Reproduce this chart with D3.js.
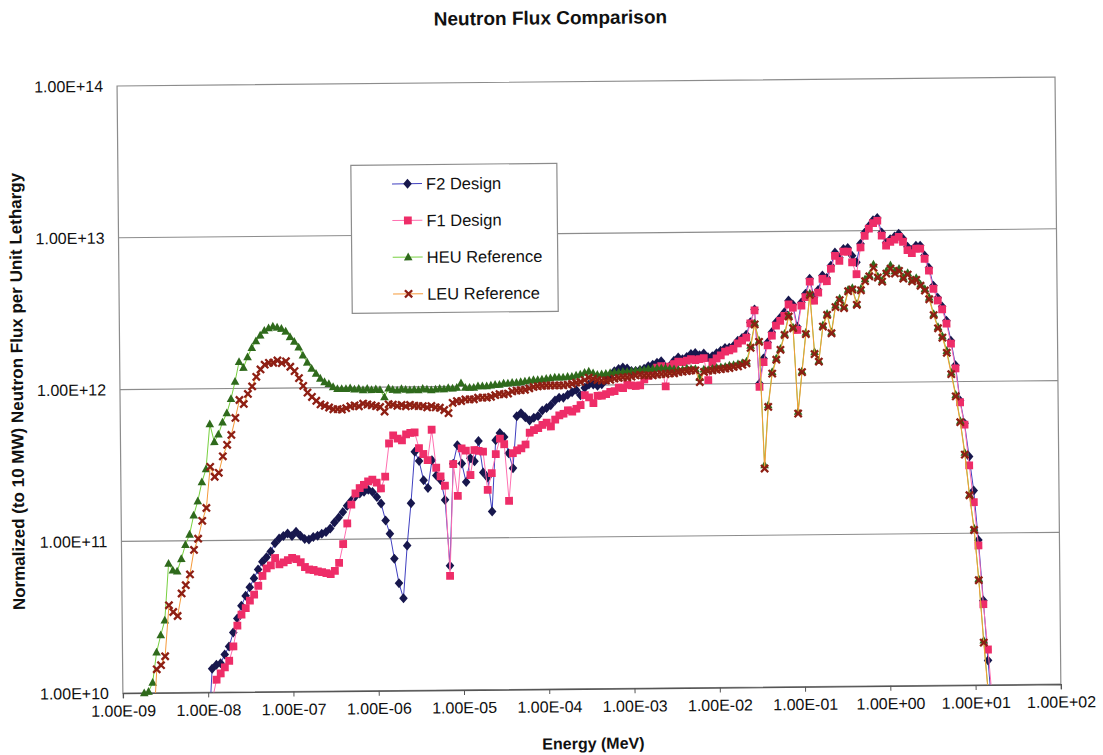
<!DOCTYPE html>
<html><head><meta charset="utf-8">
<script src="https://cdn.jsdelivr.net/npm/d3@7"></script>
<style>
html,body{margin:0;padding:0;background:#fff;}
svg{display:block;font-family:"Liberation Sans",Arial,Helvetica,sans-serif;}
</style>
</head><body><div id="chart"></div>
<script>
// Energy group points (MeV)
const energy = [
1.58e-9,1.78e-9,2.00e-9,2.24e-9,2.51e-9,2.82e-9,3.16e-9,3.55e-9,3.98e-9,4.47e-9,5.01e-9,5.62e-9,6.31e-9,7.08e-9,7.94e-9,8.91e-9,
1.00e-8,1.12e-8,1.26e-8,1.41e-8,1.58e-8,1.78e-8,2.00e-8,2.24e-8,2.51e-8,2.82e-8,3.16e-8,3.55e-8,3.98e-8,4.47e-8,5.01e-8,5.62e-8,6.31e-8,7.08e-8,7.94e-8,8.91e-8,
1.00e-7,1.12e-7,1.26e-7,1.41e-7,1.58e-7,1.78e-7,2.00e-7,2.24e-7,2.51e-7,2.82e-7,3.16e-7,3.55e-7,3.98e-7,4.47e-7,5.01e-7,5.62e-7,6.31e-7,7.08e-7,7.94e-7,8.91e-7,
1.00e-6,1.12e-6,1.26e-6,1.41e-6,1.58e-6,1.78e-6,2.00e-6,2.24e-6,2.51e-6,2.82e-6,3.16e-6,3.55e-6,3.98e-6,4.47e-6,5.01e-6,5.62e-6,6.31e-6,7.08e-6,7.94e-6,8.91e-6,
1.00e-5,1.12e-5,1.26e-5,1.41e-5,1.58e-5,1.78e-5,2.00e-5,2.24e-5,2.51e-5,2.82e-5,3.16e-5,3.55e-5,3.98e-5,4.47e-5,5.01e-5,5.62e-5,6.31e-5,7.08e-5,7.94e-5,8.91e-5,
1.00e-4,1.12e-4,1.26e-4,1.41e-4,1.58e-4,1.78e-4,2.00e-4,2.24e-4,2.51e-4,2.82e-4,3.16e-4,3.55e-4,3.98e-4,4.47e-4,5.01e-4,5.62e-4,6.31e-4,7.08e-4,7.94e-4,8.91e-4,
1.00e-3,1.12e-3,1.26e-3,1.41e-3,1.58e-3,1.78e-3,2.00e-3,2.24e-3,2.51e-3,2.82e-3,3.16e-3,3.55e-3,3.98e-3,4.47e-3,5.01e-3,5.62e-3,6.31e-3,7.08e-3,7.94e-3,8.91e-3,
1.00e-2,1.12e-2,1.26e-2,1.41e-2,1.58e-2,1.78e-2,2.00e-2,2.24e-2,2.51e-2,2.82e-2,3.16e-2,3.55e-2,3.98e-2,4.47e-2,5.01e-2,5.62e-2,6.31e-2,7.08e-2,7.94e-2,8.91e-2,
1.00e-1,1.12e-1,1.26e-1,1.41e-1,1.58e-1,1.78e-1,2.00e-1,2.24e-1,2.51e-1,2.82e-1,3.16e-1,3.55e-1,3.98e-1,4.47e-1,5.01e-1,5.62e-1,6.31e-1,7.08e-1,7.94e-1,8.91e-1,
1.00e0,1.12e0,1.26e0,1.41e0,1.58e0,1.78e0,2.00e0,2.24e0,2.51e0,2.82e0,3.16e0,3.55e0,3.98e0,4.47e0,5.01e0,5.62e0,6.31e0,7.08e0,7.94e0,8.91e0,
1.00e1,1.12e1,1.26e1,1.41e1,1.58e1
];

// Normalized (to 10 MW) neutron flux per unit lethargy
const f2Design = [
null,null,null,null,null,null,null,null,null,null,null,null,null,null,null,null,
5.0e9,1.43e10,1.52e10,1.55e10,1.77e10,2.0e10,2.47e10,3.05e10,3.7e10,4.3e10,4.9e10,5.6e10,6.4e10,7.2e10,7.7e10,8.4e10,9.5e10,1.02e11,1.06e11,1.1e11,
1.06e11,1.13e11,1.06e11,1.01e11,1.0e11,1.04e11,1.06e11,1.09e11,1.12e11,1.18e11,1.29e11,1.39e11,1.51e11,1.66e11,1.79e11,1.92e11,2.0e11,2.05e11,2.11e11,2.04e11,
1.89e11,1.71e11,1.32e11,1.08e11,7.4e10,5.1e10,4.05e10,9.0e10,1.71e11,3.73e11,3.24e11,2.42e11,2.15e11,3.27e11,2.6e11,2.42e11,1.79e11,6.6e10,3.1e11,4.1e11,
3.1e11,2.34e11,3.36e11,3.2e11,4.35e11,2.7e11,2.5e11,1.49e11,4.4e11,4.9e11,4.6e11,3.6e11,2.87e11,6.3e11,6.6e11,6.2e11,5.9e11,6.15e11,6.3e11,6.85e11,
7.1e11,7.4e11,7.95e11,8.3e11,8.3e11,8.65e11,9.0e11,9.3e11,8.6e11,9.6e11,1.01e12,1.01e12,9.9e11,1.01e12,1.08e12,1.16e12,1.23e12,1.27e12,1.3e12,1.28e12,
1.23e12,1.23e12,1.25e12,1.27e12,1.32e12,1.35e12,1.39e12,1.42e12,1.3e12,1.32e12,1.43e12,1.5e12,1.46e12,1.51e12,1.58e12,1.6e12,1.55e12,1.59e12,1.5e12,1.52e12,
1.59e12,1.65e12,1.72e12,1.73e12,1.77e12,1.92e12,2.0e12,2.1e12,2.53e12,3.07e12,1.0e12,1.46e12,1.86e12,2.17e12,2.52e12,2.7e12,2.93e12,3.5e12,3.3e12,2.35e12,
3.4e12,3.87e12,4.86e12,3.65e12,4.1e12,5.1e12,4.9e12,5.9e12,7.2e12,6.65e12,7.6e12,7.7e12,6.85e12,6.2e12,8.2e12,9.7e12,1.07e13,1.17e13,1.21e13,9.7e12,
8.3e12,8.75e12,9.1e12,9.5e12,8.8e12,7.8e12,7.4e12,7.9e12,7.9e12,6.8e12,5.65e12,4.3e12,3.58e12,3.13e12,2.52e12,1.86e12,1.28e12,7.5e11,5.3e11,3.2e11,
1.91e11,9.0e10,3.6e10,1.45e10,6.0e9
];
const f1Design = [
null,null,null,null,null,null,null,null,null,null,null,null,null,null,null,null,
null,9.0e9,1.21e10,1.33e10,1.46e10,1.61e10,2.0e10,2.74e10,3.24e10,3.57e10,4.0e10,4.38e10,5.0e10,5.8e10,6.5e10,6.8e10,7.6e10,6.9e10,7.1e10,7.35e10,
7.6e10,7.45e10,7.1e10,6.6e10,6.35e10,6.3e10,6.16e10,6.1e10,6.0e10,5.9e10,6.2e10,7.0e10,9.3e10,1.27e11,1.69e11,2.0e11,2.17e11,2.28e11,2.4e11,2.46e11,
2.35e11,2.15e11,2.57e11,4.25e11,4.8e11,4.57e11,4.44e11,4.86e11,4.97e11,5.0e11,3.94e11,3.6e11,3.28e11,5.2e11,2.92e11,2.56e11,2.22e11,5.65e10,3.08e11,1.9e11,
3.9e11,3.77e11,2.6e11,3.8e11,3.75e11,3.7e11,2.07e11,2.67e11,3.56e11,4.5e11,4.13e11,1.75e11,3.6e11,3.76e11,3.87e11,4.1e11,4.9e11,5.1e11,5.25e11,5.5e11,
5.7e11,5.37e11,5.96e11,6.35e11,6.5e11,6.85e11,6.7e11,7.0e11,7.4e11,8.6e11,8.3e11,7.6e11,8.5e11,8.5e11,8.7e11,9.0e11,9.1e11,9.6e11,9.5e11,1.0e12,
9.9e11,9.8e11,9.9e11,1.08e12,1.14e12,1.19e12,1.29e12,1.32e12,9.7e11,1.31e12,1.36e12,1.41e12,1.4e12,1.43e12,1.46e12,1.44e12,1.46e12,1.48e12,1.06e12,1.39e12,
1.47e12,1.54e12,1.63e12,1.66e12,1.7e12,1.84e12,1.92e12,2.01e12,2.49e12,3.03e12,9.5e11,1.38e12,1.78e12,2.06e12,2.4e12,2.58e12,2.78e12,3.3e12,3.14e12,2.24e12,
3.24e12,3.68e12,4.65e12,3.48e12,3.93e12,4.85e12,4.67e12,5.64e12,6.85e12,6.35e12,7.3e12,7.3e12,6.2e12,5.17e12,7.75e12,9.25e12,1.03e13,1.12e13,1.16e13,9.25e12,
7.95e12,8.4e12,8.7e12,9.05e12,8.4e12,7.4e12,7.06e12,7.55e12,7.55e12,6.47e12,5.4e12,4.1e12,3.43e12,3.0e12,2.41e12,1.78e12,1.22e12,7.3e11,5.2e11,2.8e11,
1.6e11,8.3e10,3.4e10,1.71e10,7.5e9
];
const heuReference = [
8.0e9,1.0e10,1.02e10,1.17e10,1.85e10,2.4e10,3.0e10,7.1e10,6.4e10,6.3e10,7.6e10,9.4e10,1.1e11,1.47e11,1.82e11,2.43e11,
2.96e11,5.85e11,4.46e11,5.0e11,6.0e11,6.9e11,8.55e11,1.11e12,1.5e12,1.37e12,1.61e12,1.85e12,2.05e12,2.23e12,2.4e12,2.49e12,2.55e12,2.51e12,2.46e12,2.36e12,
2.17e12,2.02e12,1.85e12,1.64e12,1.47e12,1.34e12,1.24e12,1.15e12,1.09e12,1.06e12,1.01e12,9.8e11,9.8e11,9.8e11,9.9e11,9.7e11,9.8e11,9.6e11,9.8e11,9.6e11,
9.7e11,9.6e11,8.6e11,9.8e11,9.6e11,9.5e11,9.7e11,9.6e11,9.5e11,9.6e11,9.5e11,9.7e11,9.6e11,9.5e11,9.6e11,9.7e11,9.6e11,9.8e11,9.7e11,9.8e11,
1.05e12,9.8e11,9.8e11,9.8e11,1.0e12,1.0e12,1.0e12,1.01e12,1.02e12,1.02e12,1.04e12,1.04e12,1.05e12,1.05e12,1.06e12,1.07e12,1.08e12,1.09e12,1.09e12,1.1e12,
1.11e12,1.12e12,1.13e12,1.13e12,1.13e12,1.14e12,1.14e12,1.16e12,1.18e12,1.21e12,1.23e12,1.2e12,1.17e12,1.18e12,1.19e12,1.2e12,1.21e12,1.21e12,1.22e12,1.22e12,
1.23e12,1.24e12,1.25e12,1.25e12,1.27e12,1.27e12,1.28e12,1.28e12,1.28e12,1.27e12,1.26e12,1.25e12,1.25e12,1.27e12,1.26e12,1.26e12,1.1e12,1.25e12,1.24e12,1.26e12,
1.28e12,1.29e12,1.3e12,1.32e12,1.33e12,1.35e12,1.37e12,1.4e12,1.78e12,2.5e12,1.92e12,2.9e11,7.2e11,1.19e12,1.46e12,1.69e12,2.12e12,2.8e12,2.33e12,6.5e11,
1.2e12,2.15e12,3.9e12,1.6e12,1.4e12,2.4e12,2.86e12,2.16e12,3.24e12,3.6e12,3.17e12,4.1e12,4.2e12,3.3e12,4.15e12,4.8e12,5.1e12,6.0e12,5.0e12,4.7e12,
5.4e12,5.9e12,5.4e12,5.6e12,4.9e12,5.25e12,4.7e12,4.85e12,4.4e12,4.1e12,3.6e12,2.8e12,2.3e12,2.0e12,1.6e12,1.15e12,8.2e11,5.5e11,3.4e11,1.8e11,
1.08e11,5.0e10,1.97e10,8.9e9,null
];
const leuReference = [
null,null,null,5.0e9,1.43e10,1.52e10,1.74e10,3.77e10,3.4e10,3.2e10,4.5e10,5.1e10,6.0e10,8.7e10,1.03e11,1.35e11,
1.64e11,3.06e11,2.63e11,2.79e11,3.58e11,4.26e11,4.95e11,6.4e11,8.4e11,7.9e11,9.2e11,1.03e12,1.19e12,1.33e12,1.43e12,1.47e12,1.47e12,1.52e12,1.46e12,1.5e12,
1.38e12,1.29e12,1.16e12,1.03e12,9.3e11,8.7e11,8.2e11,7.76e11,7.6e11,7.4e11,7.2e11,7.2e11,7.15e11,7.3e11,7.5e11,7.6e11,7.5e11,7.8e11,7.7e11,7.6e11,
7.5e11,7.4e11,6.9e11,7.7e11,7.65e11,7.5e11,7.6e11,7.45e11,7.6e11,7.5e11,7.45e11,7.45e11,7.3e11,7.45e11,7.3e11,7.25e11,7.0e11,6.67e11,7.8e11,8.0e11,
8.0e11,8.2e11,8.2e11,8.2e11,8.4e11,8.4e11,8.4e11,8.5e11,8.7e11,8.85e11,8.8e11,8.9e11,9.2e11,9.3e11,9.35e11,9.4e11,9.6e11,9.8e11,9.9e11,9.95e11,
1.0e12,1.0e12,1.0e12,1.0e12,1.0e12,1.01e12,1.02e12,1.04e12,1.05e12,1.08e12,1.12e12,1.1e12,1.08e12,1.07e12,1.07e12,1.08e12,1.1e12,1.11e12,1.12e12,1.12e12,
1.13e12,1.15e12,1.16e12,1.15e12,1.15e12,1.15e12,1.16e12,1.17e12,1.17e12,1.18e12,1.18e12,1.2e12,1.21e12,1.22e12,1.23e12,1.23e12,1.03e12,1.2e12,1.22e12,1.23e12,
1.24e12,1.25e12,1.26e12,1.27e12,1.29e12,1.3e12,1.33e12,1.36e12,1.72e12,2.45e12,1.88e12,2.75e11,7.0e11,1.16e12,1.43e12,1.66e12,2.08e12,2.75e12,2.3e12,6.3e11,
1.18e12,2.1e12,3.8e12,1.55e12,1.38e12,2.35e12,2.8e12,2.12e12,3.15e12,3.5e12,3.1e12,4.0e12,4.1e12,3.25e12,4.05e12,4.65e12,5.0e12,5.7e12,4.9e12,4.6e12,
5.2e12,5.6e12,5.2e12,5.4e12,4.8e12,5.1e12,4.6e12,4.7e12,4.3e12,4.0e12,3.5e12,2.75e12,2.25e12,1.95e12,1.55e12,1.12e12,8.0e11,5.4e11,3.3e11,1.78e11,
1.05e11,4.9e10,1.9e10,8.6e9,null
];

const seriesNames = ["F2 Design","F1 Design","HEU Reference","LEU Reference"];
const xTickValues = [1e-9,1e-8,1e-7,1e-6,1e-5,1e-4,1e-3,1e-2,1e-1,1e0,1e1,1e2];
const xTickLabels = ["1.00E-09","1.00E-08","1.00E-07","1.00E-06","1.00E-05","1.00E-04","1.00E-03","1.00E-02","1.00E-01","1.00E+00","1.00E+01","1.00E+02"];
const yTickValues = [1e10,1e11,1e12,1e13,1e14];
const yTickLabels = ["1.00E+10","1.00E+11","1.00E+12","1.00E+13","1.00E+14"];
const chartTitle = "Neutron Flux Comparison";
const xTitle = "Energy (MeV)";
const yTitle = "Normalized (to 10 MW) Neutron Flux per Unit Lethargy";

const W = 1103, H = 755;
const L = 120, R = 1058, T = 81.5, B = 688.7;

const svg = d3.select("#chart").append("svg").attr("width", W).attr("height", H);
svg.append("rect").attr("width", W).attr("height", H).attr("fill", "#fff");
const g = svg.append("g").attr("transform", "rotate(-0.55 590 390)");

const x = d3.scaleLog().domain([1e-9, 1e2]).range([L, R]);
const y = d3.scaleLog().domain([1e10, 1e14]).range([B, T]);

// gridlines
g.append("g").selectAll("line").data(yTickValues.slice(1, 4)).join("line")
  .attr("x1", L).attr("x2", R).attr("y1", d => y(d)).attr("y2", d => y(d))
  .attr("stroke", "#8c8c8c").attr("stroke-width", 1.1);
// plot frame
g.append("rect").attr("x", L).attr("y", T).attr("width", R - L).attr("height", B - T)
  .attr("fill", "none").attr("stroke", "#8c8c8c").attr("stroke-width", 1.2);

// x axis
const xAxis = d3.axisBottom(x).tickValues(xTickValues).tickSize(5).tickPadding(7)
  .tickFormat((d, i) => xTickLabels[i]);
const xa = g.append("g").attr("transform", `translate(0,${B})`).call(xAxis);
xa.select(".domain").attr("stroke", "#555").attr("stroke-width", 1.3);
xa.selectAll(".tick line").attr("stroke", "#555");
xa.selectAll("text").attr("font-size", 16).attr("fill", "#111")
  .attr("font-family", "'Liberation Sans', Arial, sans-serif");

// y axis
const yAxis = d3.axisLeft(y).tickValues(yTickValues).tickSize(0).tickPadding(14)
  .tickFormat((d, i) => yTickLabels[i]);
const ya = g.append("g").attr("transform", `translate(${L},0)`).call(yAxis);
ya.select(".domain").remove();
ya.selectAll("text").attr("font-size", 16).attr("fill", "#111")
  .attr("font-family", "'Liberation Sans', Arial, sans-serif");

// titles
g.append("text").attr("x", 554).attr("y", 24).attr("text-anchor", "middle")
  .attr("font-size", 19).attr("font-weight", "bold").attr("fill", "#111").text(chartTitle);
g.append("text").attr("x", 590).attr("y", 749).attr("text-anchor", "middle")
  .attr("font-size", 16).attr("font-weight", "bold").attr("fill", "#111").text(xTitle);
g.append("text").attr("transform", "translate(23,386) rotate(-90)").attr("text-anchor", "middle")
  .attr("font-size", 17).attr("font-weight", "bold").attr("fill", "#111").text(yTitle);

// clip
svg.append("defs").append("clipPath").attr("id", "plotclip")
  .append("rect").attr("x", L).attr("y", T - 5).attr("width", R - L).attr("height", B - T + 5);

const shapes = {
  diamond: "M0,-5L4.3,0L0,5L-4.3,0Z",
  square: "M-3.9,-3.9H3.9V3.9H-3.9Z",
  triangle: "M0,-4.6L4.3,3.2H-4.3Z",
  cross: "M-3.6,-3.6L3.6,3.6M3.6,-3.6L-3.6,3.6"
};
const series = [
  {name: seriesNames[0], values: f2Design, line: "#4040c0", mark: "#17174d", shape: "diamond"},
  {name: seriesNames[1], values: f1Design, line: "#ff6fb0", mark: "#ee2d68", shape: "square"},
  {name: seriesNames[2], values: heuReference, line: "#78d040", mark: "#2f6a1c", shape: "triangle"},
  {name: seriesNames[3], values: leuReference, line: "#f59a3a", mark: "#8e1f14", shape: "cross"}
];

const lineGen = d3.line().defined(d => d.v != null).x(d => x(d.e)).y(d => y(d.v));

series.forEach(s => {
  const pts = energy.map((e, i) => ({e, v: s.values[i]}));
  const sg = g.append("g");
  sg.append("path").datum(pts).attr("d", lineGen).attr("fill", "none")
    .attr("stroke", s.line).attr("stroke-width", 1).attr("clip-path", "url(#plotclip)");
  const vis = pts.filter(d => d.v != null && d.v >= 9.7e9);
  const m = sg.selectAll("path.m").data(vis).join("path").attr("class", "m")
    .attr("transform", d => `translate(${x(d.e)},${y(d.v)})`)
    .attr("d", shapes[s.shape]);
  if (s.shape === "cross") m.attr("fill", "none").attr("stroke", s.mark).attr("stroke-width", 2.3);
  else m.attr("fill", s.mark);
});

// legend
const lg = g.append("g");
lg.append("rect").attr("x", 353).attr("y", 163).attr("width", 206).attr("height", 148)
  .attr("fill", "#fff").attr("stroke", "#8c8c8c").attr("stroke-width", 1.2);
series.forEach((s, i) => {
  const cy = 182 + i * 36.7;
  lg.append("line").attr("x1", 394).attr("x2", 424).attr("y1", cy).attr("y2", cy)
    .attr("stroke", s.line).attr("stroke-width", 1);
  const mk = lg.append("path").attr("transform", `translate(409.5,${cy})`).attr("d", shapes[s.shape]);
  if (s.shape === "cross") mk.attr("fill", "none").attr("stroke", s.mark).attr("stroke-width", 2.3);
  else mk.attr("fill", s.mark);
  lg.append("text").attr("x", 428).attr("y", cy + 6).attr("font-size", 16.5).attr("fill", "#111").text(s.name);
});
</script>
</body></html>
